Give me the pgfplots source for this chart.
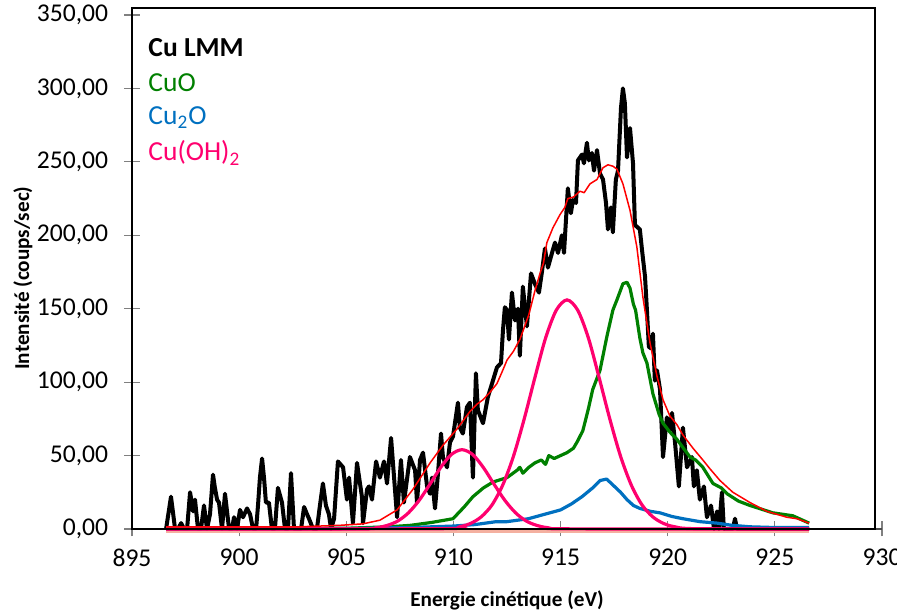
\documentclass[border=0pt]{standalone}
\usepackage{pgfplots}
\pgfplotsset{compat=1.18}
\usepackage{fontspec}
\setmainfont{Carlito}
\definecolor{cugreen}{RGB}{0,128,0}
\definecolor{cublue}{RGB}{0,112,192}
\definecolor{cupink}{RGB}{255,0,110}
\definecolor{salmon}{RGB}{244,176,160}
\begin{document}
\begin{tikzpicture}
\begin{axis}[
  scale only axis, width=375pt, height=257pt,
  xmin=895, xmax=930, ymin=0, ymax=350,
  clip=false,
  axis x line*=bottom, axis y line*=left,
  axis line style={black!70, line width=0.8pt},
  xtick={895,900,...,930}, ytick={0,50,...,350},
  tick align=center, major tick length=7.5pt,
  tick style={gray, line width=0.6pt},
  /pgf/number format/assume math mode=true,
  xticklabel style={/pgf/number format/.cd, fixed, 1000 sep={}, /tikz/.cd},
  yticklabel style={/pgf/number format/.cd, fixed, fixed zerofill, precision=2, use comma, 1000 sep={}, /tikz/.cd},
  ticklabel style={font=\fontsize{12.8}{15}\selectfont},
  xticklabel style={anchor=north, inner sep=0pt, yshift=-6pt},
  yticklabel style={anchor=east, inner sep=0pt, xshift=-8pt},
  xlabel={Energie cinétique (eV)},
  ylabel={Intensité (coups/sec)},
  label style={font=\bfseries\fontsize{10.6}{12}\selectfont},
  xlabel style={at={(rel axis cs:0.5,0)}, anchor=center, yshift=-35.5pt},
  ylabel style={at={(rel axis cs:0,0.488)}, anchor=center, yshift=54.5pt},
]
% baseline
\addplot[salmon, line width=2.5pt] coordinates {(896.59,-1) (926.6,-1)};
% Cu LMM experimental
\addplot[black, line width=2pt, line join=round] coordinates {
(896.59,0)(896.82,22)(897.01,0)(897.15,0)(897.29,4)(897.43,0)(897.57,0)(897.71,25)(897.85,12)(897.94,20)(898.08,0)(898.22,0)(898.36,16)(898.50,0)(898.64,10)(898.78,37)(898.87,28)(898.97,20)(899.06,18)(899.20,0)(899.34,24)(899.53,0)(899.67,0)(899.76,8)(899.90,0)(900.04,13)(900.18,8)(900.37,14)(900.51,10)(900.65,0)(900.79,0)(900.88,16)(900.97,35)(901.07,48)(901.16,35)(901.25,18)(901.39,18)(901.53,0)(901.67,0)(901.81,28)(902.00,18)(902.14,0)(902.28,0)(902.42,38)(902.56,0)(902.75,0)(902.89,0)(903.03,15)(903.17,10)(903.26,7)(903.45,0)(903.63,0)(903.77,16)(903.91,31)(904.05,16)(904.19,10)(904.29,0)(904.43,7)(904.61,46)(904.85,42)(905.03,20)(905.13,35)(905.31,4)(905.50,45)(905.73,22)(905.78,4)(905.97,27)(906.06,29)(906.20,20)(906.39,46)(906.57,35)(906.76,46)(906.90,31)(907.09,62)(907.23,35)(907.37,8)(907.55,47)(907.69,18)(907.97,49)(908.21,40)(908.30,18)(908.44,47)(908.58,52)(908.77,29)(908.91,24)(909.00,35)(909.14,14)(909.28,38)(909.42,65)(909.51,49)(909.70,42)(909.84,59)(909.98,63)(910.21,86)(910.30,69)(910.44,65)(910.63,83)(910.77,86)(910.91,35)(911.05,106)(911.14,81)(911.38,72)(911.61,90)(911.80,99)(912.03,110)(912.22,113)(912.31,135)(912.40,151)(912.50,149)(912.59,129)(912.73,161)(912.87,142)(913.01,150)(913.10,118)(913.24,165)(913.43,138)(913.62,174)(913.80,167)(913.99,161)(914.13,175)(914.27,191)(914.41,178)(914.60,188)(914.74,195)(914.88,188)(915.06,200)(915.16,188)(915.34,232)(915.48,215)(915.58,224)(915.72,222)(915.81,251)(916.00,255)(916.09,249)(916.23,263)(916.32,251)(916.46,256)(916.56,244)(916.70,258)(916.84,242)(916.98,238)(917.12,222)(917.21,204)(917.35,219)(917.44,202)(917.58,238)(917.68,244)(917.82,287)(917.91,300)(918.00,290)(918.10,253)(918.24,273)(918.38,249)(918.47,207)(918.70,204)(918.80,190)(918.94,172)(919.03,149)(919.12,124)(919.22,123)(919.31,133)(919.40,101)(919.50,108)(919.64,95)(919.78,49)(919.96,76)(920.10,67)(920.20,79)(920.34,59)(920.52,29)(920.71,69)(920.90,42)(921.13,49)(921.22,29)(921.36,40)(921.50,20)(921.69,29)(921.83,8)(922.02,16)(922.16,0)(922.30,12)(922.39,0)(922.53,25)(922.62,0)(923.04,0)(923.14,7)(923.23,0)(926.6,0)};
% CuO
\addplot[cugreen, line width=1.6pt, line join=round] coordinates {
(896.59,0)(905,0.5)(907,1.5)(908,2.5)(909,4.5)(909.98,7)(910.5,15)(910.91,22)(911.4,28)(911.85,32)(912.5,35)(912.97,40)(913.1,42)(913.24,38)(913.52,42)(913.8,45)(914.1,47)(914.3,44)(914.45,50)(914.7,48)(915.0,50)(915.3,52)(915.6,55)(915.8,60)(916.04,67)(916.3,82)(916.5,95)(916.84,108)(917.16,131)(917.44,149)(917.63,156)(917.91,167)(918.1,168)(918.24,164)(918.4,153)(918.5,149)(918.7,130)(918.84,120)(919.03,113)(919.31,92)(919.6,78)(919.78,72)(920.1,66)(920.43,61)(921.04,49)(921.3,47)(921.64,42)(922.11,31)(922.5,28)(922.77,24)(923.3,19)(923.84,16)(924.91,11)(925.84,9)(926.6,4)};
% Cu2O
\addplot[cublue, line width=1.6pt, line join=round] coordinates {
(896.59,0)(905,0.3)(908,1)(910,2)(911,3)(912,5)(912.5,5)(913,6)(913.5,7)(914,9)(914.5,11)(915,13)(915.5,17)(916,22)(916.5,28)(916.84,33)(917.15,34)(917.44,30)(917.8,25)(918.1,20)(918.4,16)(918.7,14)(919.2,12)(919.64,11)(920.2,8.5)(920.71,7)(921.5,5)(922.3,4)(923,2.5)(923.84,1.5)(925,1)(926.6,1)};
% Cu(OH)2 components
\addplot[cupink, line width=1.6pt, smooth] coordinates {
(896.59,0)(905.4,0.1)(906.4,0.9)(906.9,2.4)(907.4,5.4)(907.9,11.0)(908.4,19.5)(908.9,30.4)(909.4,41.8)(909.9,50.7)(910.4,54)(910.9,50.7)(911.4,41.8)(911.9,30.4)(912.4,19.5)(912.9,11.0)(913.4,5.4)(913.9,2.4)(914.4,0.9)(915.4,0.1)(926.6,0)};
\addplot[cupink, line width=1.6pt, smooth] coordinates {
(896.59,0)(909.3,0.2)(910.3,1.6)(910.8,3.8)(911.3,8.3)(911.8,16.4)(912.3,29.9)(912.8,49.5)(913.3,74.8)(913.8,103)(914.3,130)(914.8,149)(915.3,156)(915.8,149)(916.3,130)(916.8,103)(917.3,74.8)(917.8,49.5)(918.3,29.9)(918.8,16.4)(919.3,8.3)(919.8,3.8)(920.3,1.6)(921.3,0.2)(926.6,0)};
% envelope
\addplot[red, line width=0.75pt, line join=round] coordinates {
(896.59,1.5)(902.8,1.5)(904.7,2.5)(905.78,3.5)(906.57,6)(907.37,13)(908.11,27)(908.91,45)(909.51,57)(910.16,68)(910.77,80)(911.1,85)(911.38,88)(911.7,93)(912.03,99)(912.3,108)(912.5,115)(912.8,121)(913.1,129)(913.3,137)(913.52,146)(913.8,162)(914.04,174)(914.2,181)(914.36,195)(914.64,205)(914.97,214)(915.2,219)(915.34,225)(915.6,226)(915.9,230)(916.1,229)(916.37,235)(916.7,238)(916.98,246)(917.21,248)(917.45,247)(917.63,245)(917.91,235)(918.24,217)(918.56,192)(918.84,158)(919.17,127)(919.5,104)(919.78,88)(920.1,77)(920.43,71)(920.71,64)(921.18,55)(921.64,47)(921.97,41)(922.44,33)(923.04,25)(923.84,18)(924.63,12)(925.56,8)(926.03,7)(926.6,4)};
% plot area frame
\draw[black, line width=0.9pt] (axis cs:895,0) rectangle (axis cs:929.67,354.7);
% legend text
\node[anchor=west, inner sep=0pt, font=\bfseries\fontsize{13.75}{16}\selectfont] at (axis cs:895.75,328) {Cu LMM};
\node[anchor=west, inner sep=0pt, text=cugreen, font=\fontsize{13.75}{16}\selectfont] at (axis cs:895.75,304) {CuO};
\node[anchor=west, inner sep=0pt, text=cublue, font=\fontsize{13.75}{16}\selectfont] at (axis cs:895.75,280) {Cu\textsubscript{2}O};
\node[anchor=west, inner sep=0pt, text=cupink, font=\fontsize{13.75}{16}\selectfont] at (axis cs:895.75,256) {Cu(OH)\textsubscript{2}};
\end{axis}
\pgfresetboundingbox
\useasboundingbox (-66pt,-42pt) rectangle (382.5pt,264.5pt);
\end{tikzpicture}
\end{document}
